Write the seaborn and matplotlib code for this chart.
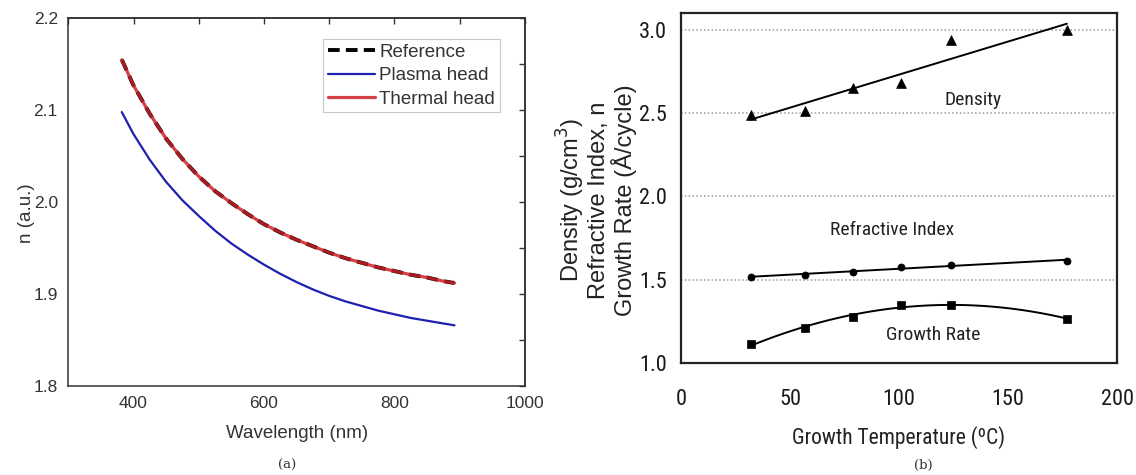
import matplotlib
matplotlib.use("Agg")
import matplotlib.pyplot as plt
from matplotlib.ticker import MultipleLocator, FormatStrFormatter
import seaborn as sns

# ---- Panel (a): refractive index dispersion ----
wavelength_nm = [382, 400, 425, 450, 475, 500, 525, 550, 575, 600, 625, 650,
                 675, 700, 725, 750, 775, 800, 825, 850, 875, 892]
n_reference = [2.155, 2.127, 2.096, 2.069, 2.047, 2.028, 2.012, 1.999, 1.987,
               1.976, 1.967, 1.959, 1.952, 1.945, 1.939, 1.934, 1.929, 1.925,
               1.921, 1.918, 1.914, 1.912]
n_thermal = [2.155, 2.127, 2.096, 2.069, 2.047, 2.028, 2.012, 1.999, 1.987,
             1.976, 1.967, 1.959, 1.952, 1.945, 1.939, 1.934, 1.929, 1.925,
             1.921, 1.918, 1.914, 1.912]
n_plasma = [2.098, 2.074, 2.046, 2.022, 2.002, 1.985, 1.969, 1.955, 1.943,
            1.932, 1.922, 1.913, 1.905, 1.898, 1.892, 1.887, 1.882, 1.878,
            1.874, 1.871, 1.868, 1.866]
series_labels = ["Reference", "Plasma head", "Thermal head"]

# ---- Panel (b): film properties vs growth temperature ----
growth_temp_c = [32, 57, 79, 101, 124, 177]
density = [2.49, 2.51, 2.65, 2.68, 2.94, 3.00]
refractive_index = [1.514, 1.530, 1.544, 1.578, 1.590, 1.610]
growth_rate = [1.110, 1.207, 1.277, 1.348, 1.348, 1.263]
guide_levels = [1.5, 2.0, 2.5, 3.0]

sns.set_style("white")
plt.rcParams["font.family"] = ["Liberation Sans", "DejaVu Sans"]
NARROW = ["Liberation Sans Narrow", "Roboto Condensed", "Noto Sans Condensed",
          "Liberation Sans", "DejaVu Sans"]

fig = plt.figure(figsize=(11.36, 4.75), dpi=100)

# ================= (a) =================
ax_a = fig.add_axes([0.0601, 0.1874, 0.4020, 0.7741])
sns.lineplot(x=wavelength_nm, y=n_reference, ax=ax_a, color="black",
             linewidth=2.8, linestyle=(0, (3, 1.6)), label=series_labels[0],
             sort=False)
sns.lineplot(x=wavelength_nm, y=n_plasma, ax=ax_a, color="#1f1fb0",
             linewidth=1.6, label=series_labels[1], sort=False)
sns.lineplot(x=wavelength_nm, y=n_thermal, ax=ax_a, color="#cc1f26",
             linewidth=2.3, alpha=0.85, label=series_labels[2], sort=False)

ax_a.set_xlim(300, 1000)
ax_a.set_ylim(1.8, 2.2)
ax_a.xaxis.set_major_locator(MultipleLocator(200))
ax_a.xaxis.set_minor_locator(MultipleLocator(100))
ax_a.yaxis.set_major_locator(MultipleLocator(0.1))
ax_a.yaxis.set_minor_locator(MultipleLocator(0.05))
ax_a.yaxis.set_major_formatter(FormatStrFormatter("%.1f"))
ax_a.tick_params(which="major", direction="out", length=4.5, width=1,
                 color="#333333", labelsize=12.5, labelcolor="#333333", pad=3)
ax_a.tick_params(which="minor", direction="in", length=3, width=1,
                 color="#333333")
for side in ax_a.spines.values():
    side.set_color("#333333")
    side.set_linewidth(1.1)

# inward mirror ticks on the top and right edges
sec_top = ax_a.secondary_xaxis("top")
sec_top.xaxis.set_major_locator(MultipleLocator(100))
sec_top.tick_params(axis="x", direction="in", length=4, width=1,
                    color="#333333", labeltop=False, labelbottom=False)
sec_right = ax_a.secondary_yaxis("right")
sec_right.yaxis.set_major_locator(MultipleLocator(0.05))
sec_right.tick_params(axis="y", direction="in", length=4, width=1,
                      color="#333333", labelright=False, labelleft=False)
for sec in (sec_top, sec_right):
    for side in sec.spines.values():
        side.set_color("#333333")
        side.set_linewidth(1.1)

ax_a.set_xlabel("Wavelength (nm)", fontsize=13.5, color="#333333")
ax_a.set_ylabel("n (a.u.)", fontsize=13.5, color="#333333")
ax_a.xaxis.label.set_va("center")
ax_a.yaxis.label.set_va("center")
ax_a.xaxis.set_label_coords(0.5, -0.128)
ax_a.yaxis.set_label_coords(-0.092, 0.47)

leg = ax_a.legend(loc="upper right", bbox_to_anchor=(0.945, 0.943),
                  borderaxespad=0, fontsize=13.5, frameon=True,
                  fancybox=False, framealpha=1, edgecolor="#c8c8c8",
                  handlelength=2.5, handletextpad=0.25, labelspacing=0.33,
                  borderpad=0.25)
leg.get_frame().set_linewidth(0.8)
for txt in leg.get_texts():
    txt.set_color("#333333")

# ================= (b) =================
ax_b = fig.add_axes([0.5995, 0.2364, 0.3838, 0.7356])

for lvl in guide_levels:
    ax_b.axhline(lvl, color="#9a9a9a", linestyle=(0, (1, 1.5)),
                 linewidth=1.1, zorder=0)

fit_kws = dict(color="black", linewidth=1.4)
sns.regplot(x=growth_temp_c, y=density, ax=ax_b, order=1, ci=None,
            scatter=False, line_kws=fit_kws)
sns.regplot(x=growth_temp_c, y=refractive_index, ax=ax_b, order=1, ci=None,
            scatter=False, line_kws=fit_kws)
sns.regplot(x=growth_temp_c, y=growth_rate, ax=ax_b, order=2, ci=None,
            scatter=False, line_kws=fit_kws)

sns.scatterplot(x=growth_temp_c, y=density, ax=ax_b, marker="^", s=50,
                color="black", edgecolor="black", linewidth=0.5, zorder=5)
sns.scatterplot(x=growth_temp_c, y=refractive_index, ax=ax_b, marker="o",
                s=26, color="black", edgecolor="black", linewidth=0.5,
                zorder=5)
sns.scatterplot(x=growth_temp_c, y=growth_rate, ax=ax_b, marker="s", s=30,
                color="black", edgecolor="black", linewidth=0.5, zorder=5)

ax_b.set_xlim(0, 200)
ax_b.set_ylim(1.0, 3.1)
ax_b.xaxis.set_major_locator(MultipleLocator(50))
ax_b.xaxis.set_minor_locator(MultipleLocator(10))
ax_b.yaxis.set_major_locator(MultipleLocator(0.5))
ax_b.yaxis.set_minor_locator(MultipleLocator(0.1))
ax_b.yaxis.set_major_formatter(FormatStrFormatter("%.1f"))
ax_b.tick_params(which="both", direction="in", length=4.5, width=1.1,
                 color="#222222", top=False, right=False)
ax_b.tick_params(axis="x", which="major", pad=19)
ax_b.tick_params(axis="y", which="major", pad=10)
for lab in ax_b.get_xticklabels() + ax_b.get_yticklabels():
    lab.set_fontfamily(NARROW)
    lab.set_fontstretch("condensed")
    lab.set_fontsize(16)
    lab.set_color("#1a1a1a")
for side in ax_b.spines.values():
    side.set_color("#222222")
    side.set_linewidth(1.6)

ax_b.set_xlabel("Growth Temperature (ºC)", fontsize=15.5, family=NARROW,
                fontstretch="condensed", color="#222222")
ax_b.xaxis.label.set_va("center")
ax_b.xaxis.set_label_coords(0.5, -0.215)
ax_b.set_ylabel("Density (g/cm$^3$)\nRefractive Index, n\nGrowth Rate (Å/cycle)",
                fontsize=17, color="#222222", linespacing=1.05,
                multialignment="center")
ax_b.yaxis.label.set_va("center")
ax_b.yaxis.set_label_coords(-0.195, 0.465)

note_kws = dict(ha="center", va="center", fontsize=14, family=NARROW,
                fontstretch="condensed", color="#222222")
ax_b.text(134, 2.578, "Density", **note_kws)
ax_b.text(96.6, 1.795, "Refractive Index", **note_kws)
ax_b.text(115.7, 1.167, "Growth Rate", **note_kws)

# panel captions
fig.text(287 / 1136, 1 - 465 / 475, "(a)", ha="center", va="center",
         fontsize=9.5, family="DejaVu Serif", color="#333333")
fig.text(923 / 1136, 1 - 465 / 475, "(b)", ha="center", va="center",
         fontsize=9.5, family="DejaVu Serif", color="#333333")

fig.savefig("out.png", dpi=100, facecolor="white")
